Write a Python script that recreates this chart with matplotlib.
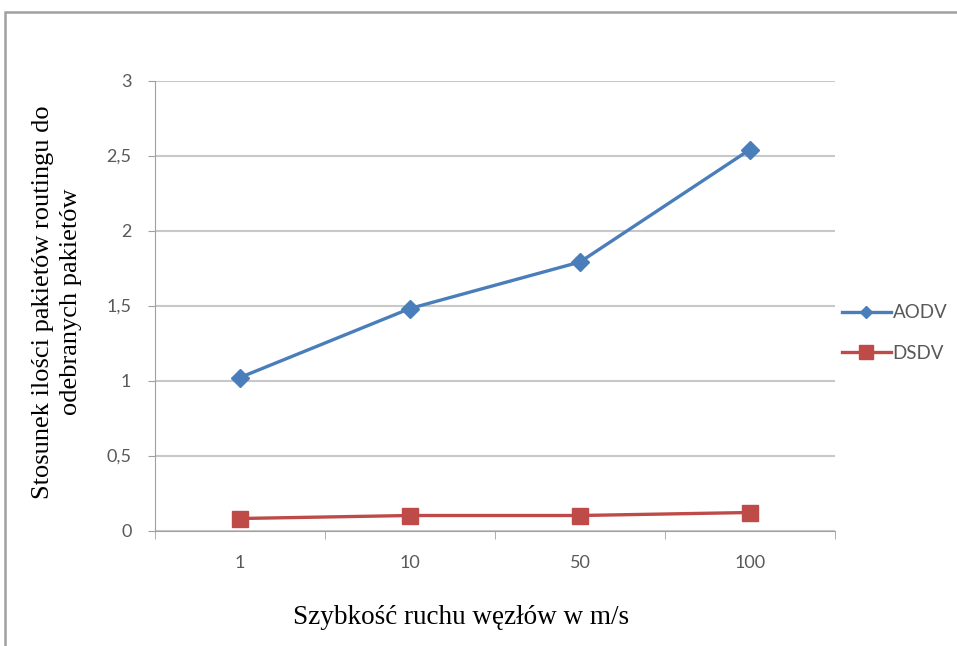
import matplotlib
matplotlib.use("Agg")
import matplotlib.pyplot as plt
from matplotlib.patches import Rectangle

# data
speeds = ["1", "10", "50", "100"]
aodv = [1.02, 1.48, 1.79, 2.54]
dsdv = [0.08, 0.10, 0.10, 0.12]
yticks = [0, 0.5, 1, 1.5, 2, 2.5, 3]
ytick_labels = ["0", "0,5", "1", "1,5", "2", "2,5", "3"]

blue = "#4A7EBB"
red = "#BE4B48"
grid_c = "#C8C8C8"
txt_c = "#595959"

fig = plt.figure(figsize=(9.57, 6.46), dpi=100)
ax = fig.add_axes([155 / 957, 1 - 530.5 / 646, 680 / 957, 450 / 646])

x = range(len(speeds))
ax.plot(x, aodv, color=blue, lw=2.4, marker="D", ms=9, label="AODV")
ax.plot(x, dsdv, color=red, lw=2.4, marker="s", ms=11, label="DSDV")

ax.set_xlim(-0.5, 3.5)
ax.set_ylim(0, 3)
ax.set_yticks(yticks)
ax.set_yticklabels(ytick_labels)
ax.set_xticks(list(x))
ax.set_xticklabels(speeds)
ax.set_xticks([-0.5, 0.5, 1.5, 2.5, 3.5], minor=True)
ax.tick_params(axis="x", which="major", length=0, pad=18)
ax.tick_params(axis="x", which="minor", length=6, color="#A0A0A0", direction="out")
ax.tick_params(axis="y", length=5, color="#A0A0A0", pad=12)
for lab in ax.get_xticklabels() + ax.get_yticklabels():
    lab.set_fontfamily("Lato")
    lab.set_fontsize(13)
    lab.set_color(txt_c)

ax.grid(axis="y", color=grid_c, lw=1.5)
ax.set_axisbelow(True)
for s in ["top", "right"]:
    ax.spines[s].set_visible(False)
ax.spines["left"].set_color("#A0A0A0")
ax.spines["bottom"].set_color("#A0A0A0")

fig.text(57 / 957, 1 - 302 / 646,
         "Stosunek ilości pakietów routingu do\nodebranych pakietów",
         family="Liberation Serif", fontsize=19, linespacing=1.3,
         rotation=90, ha="center", va="center", multialignment="center")

fig.text(461 / 957, 1 - 617 / 646, "Szybkość ruchu węzłów w m/s",
         family="Liberation Serif", fontsize=19.5, ha="center", va="center")

leg = ax.legend(loc="center left", bbox_to_anchor=(842 / 957, 1 - 333 / 646),
                bbox_transform=fig.transFigure, frameon=False,
                prop={"family": "Lato", "size": 13.5}, handlelength=2.6,
                handletextpad=0.1, labelspacing=1.25, borderaxespad=0, borderpad=0)
for t in leg.get_texts():
    t.set_color(txt_c)
hs = leg.legend_handles
hs[0].set_markersize(6)
hs[1].set_markersize(10)

# outer frame of the original chart
fig.patches.append(Rectangle((4.5 / 957, -0.1), 1.2, 1 - 12 / 646 + 0.1,
                             transform=fig.transFigure, fill=False,
                             ec="#A0A0A0", lw=1.8))

fig.savefig("out.png", dpi=100)
